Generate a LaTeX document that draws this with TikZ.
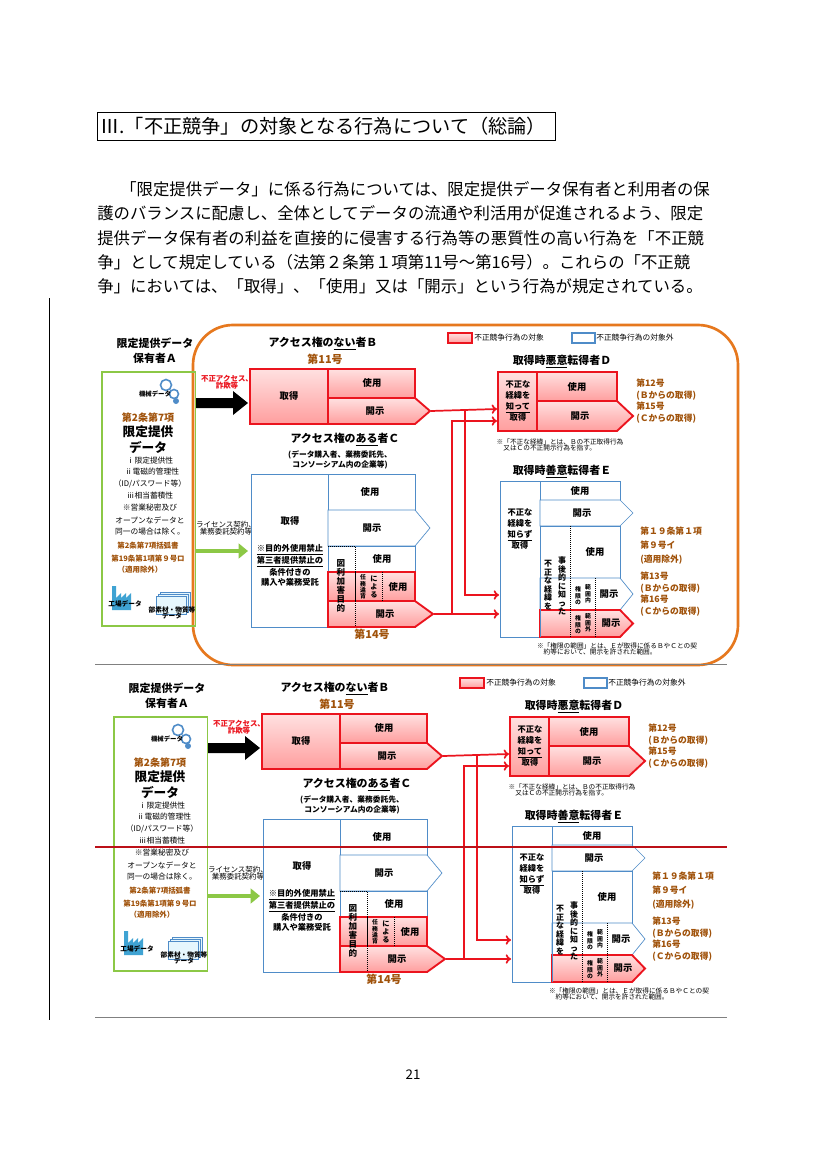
\documentclass[tikz,border=0pt]{standalone}
\usepackage{fontspec}
\setmainfont{Noto Sans CJK JP}
\usetikzlibrary{arrows.meta}
\definecolor{brn}{RGB}{160,82,10}
\definecolor{bl}{RGB}{79,140,200}
\definecolor{org}{RGB}{230,120,30}
\definecolor{grn}{RGB}{140,200,70}
\definecolor{rd}{RGB}{235,20,30}
\newcommand\fs[1]{\fontsize{#1}{#1}\selectfont}
\newcommand\fsb[2]{\fontsize{#1}{#2}\selectfont}
\tikzset{
 rbox/.style={draw=rd,line width=1.4pt,top color=red!12,bottom color=red!38},
 bbox/.style={draw=bl,line width=0.5pt,fill=white},
 lab/.style={font=\fs{7}\bfseries,inner sep=0pt},
 ttl/.style={font=\fs{8.2}\bfseries,inner sep=0pt},
 sm/.style={font=\fs{5.6},inner sep=0pt,align=center},
 bro/.style={font=\fs{6.6}\bfseries,text=brn,inner sep=0pt,align=left},
 vt/.style={font=\fsb{6.2}{6.6}\bfseries,inner sep=0pt,align=center},
 vts/.style={font=\fsb{4.4}{4.8}\bfseries,inner sep=0pt,align=center},
 rarr/.style={draw=rd,line width=1.3pt,-{To[length=4pt,width=7pt]}},
 dot/.style={densely dotted,line width=0.5pt},
}
\newcommand\pent[6]{\path[#1] (#2,#4) -- (#3,#4) -- (#6,{(#4+#5)/2}) -- (#3,#5) -- (#2,#5) -- cycle;}
\newcommand\drawdiag{%
 % A
 \node[ttl] (atl1) at (155,343) {限定提供データ};
 \node[ttl] (atl2) at (155,358) {保有者Ａ};
 \node[draw=grn,line width=1pt,minimum width=70pt,minimum height=190.5pt,inner sep=0pt] (abox) at (148.5,499) {};
 \draw[bl,line width=1.2pt] (166,385) circle (5.5) (174,394) circle (4.5);
 \fill[bl] (176,401) circle (3);
 \node[font=\fs{4.8}\bfseries,inner sep=0pt] (gear) at (155,394) {機械データ};
 \node[bro,font=\fs{7.5}\bfseries] (a1) at (148,418) {第2条第7項};
 \node[ttl,font=\fs{9.5}\bfseries] (a2) at (148,432) {限定提供};
 \node[ttl,font=\fs{9.5}\bfseries] (a3) at (148,447) {データ};
 \node[sm,font=\fs{5.8}] (a4) at (150,461) {ⅰ限定提供性};
 \node[sm,font=\fs{5.8}] (a5) at (152,472) {ⅱ電磁的管理性};
 \node[sm,font=\fs{5.8}] (a6) at (150,484) {（ID/パスワード等）};
 \node[sm,font=\fs{5.8}] (a7) at (150,496) {ⅲ相当蓄積性};
 \node[sm,font=\fs{5.8}] (a8) at (150,508) {※営業秘密及び};
 \node[sm,font=\fs{5.8}] (a9) at (150,520) {オープンなデータと};
 \node[sm,font=\fs{5.8}] (a10) at (150,532) {同一の場合は除く。};
 \node[bro,font=\fs{5.6}\bfseries] (a11) at (148,546) {第2条第7項括弧書};
 \node[bro,font=\fs{5.6}\bfseries] (a12) at (148,559) {第19条第1項第９号ロ};
 \node[bro,font=\fs{5.6}\bfseries] (a13) at (140,570) {（適用除外）};
 \fill[bl!80!cyan] (112,586) rectangle (116,610) (116,598) -- (121,593) -- (121,598) -- (126,593) -- (126,598) -- (131,593) -- (131,610) -- (116,610) -- cycle;
 \node[font=\fs{5}\bfseries,inner sep=0pt] (fac) at (125,604) {工場データ};
 \foreach \d in {4,2,0}{\draw[bl,fill=cyan!10] (156+\d,596-\d) rectangle (186+\d,614-\d);}
 \node[sm,font=\fs{5}\bfseries] (mat) at (172,613) {部素材・物質等\\データ};
 % arrows from A
 \path[fill=black] (196,398) -- (233,398) -- (233,391) -- (248,403) -- (233,415) -- (233,408) -- (196,408) -- cycle;
 \node[sm,font=\fs{5.6}\bfseries,text=rd] (ua) at (227,382) {不正アクセス、\\詐欺等};
 \draw[grn,line width=3.2pt,-{Triangle[length=7pt,width=11pt]}] (196,551) -- (248,551);
 \node[sm,font=\fs{5.6}] (lic) at (226,528) {ライセンス契約、\\業務委託契約等};
 % B
 \node[ttl] (btl) at (323,344) {アクセス権の\underline{ない}者Ｂ};
 \node[ttl,text=brn] (b11) at (325,359) {第11号};
 \path[rbox] (250,369) rectangle (328,424);
 \path[rbox] (328,369) rectangle (415,398);
 \pent{rbox}{328}{415}{398}{424}{430}
 \node[lab] (b1) at (289,396) {取得};
 \node[lab] (b2) at (372,383) {使用};
 \node[lab] (b3) at (375,411) {開示};
 \coordinate (btip) at (431,411);
 % C
 \node[ttl] (ctl) at (345,440) {アクセス権の\underline{ある}者Ｃ};
 \node[sm,font=\fs{5.8}\bfseries] (ct2) at (340,460) {(データ購入者、業務委託先、\\コンソーシアム内の企業等)};
 \path[bbox] (251,474) rectangle (328,627);
 \path[bbox] (328,474) rectangle (415,510);
 \pent{bbox}{328}{415}{510}{546}{430}
 \path[bbox] (328,546) rectangle (415,627);
 \path[rbox] (328,572) rectangle (415,601);
 \pent{rbox}{328}{415}{601}{627}{433}
 \draw[dot] (328,546) -- (355,546) -- (355,627) (355,572) -- (355,601) (382,572) -- (382,601);
 \node[lab] (c1) at (290,521) {取得};
 \node[sm,font=\fsb{6.2}{7.4}\bfseries] (c2) at (290,565) {\underline{※目的外使用禁止}\\\underline{第三者提供禁止の}\\条件付きの\\購入や業務受託};
 \node[lab] (c3) at (370,492) {使用};
 \node[lab] (c4) at (372,528) {開示};
 \node[lab] (c5) at (382,559) {使用};
 \node[lab] (c6) at (398,587) {使用};
 \node[lab] (c7) at (385,614) {開示};
 \node[vt,font=\fsb{6.4}{6.8}\bfseries] (c8) at (341,586) {図\\利\\加\\害\\目\\的};
 \node[vts] (c9) at (363,587) {任\\務\\違\\背};
 \node[vt,font=\fsb{5.4}{6}\bfseries] (c10) at (374,587) {に\\よ\\る};
 \node[ttl,text=brn] (c14) at (372,634) {第14号};
 \coordinate (ctip) at (434,614);
 % legend
 \path[rbox,line width=1.2pt] (448,333) rectangle (472,343);
 \node[font=\fs{5.8},inner sep=0pt,anchor=west] (lg1) at (474,338) {不正競争行為の対象};
 \path[bbox,line width=0.8pt] (572,333) rectangle (595,343);
 \node[font=\fs{5.8},inner sep=0pt,anchor=west] (lg2) at (596,338) {不正競争行為の対象外};
 % D
 \node[ttl] (dtl) at (562,362) {取得時\underline{悪意}転得者Ｄ};
 \path[rbox] (498,372) rectangle (537,431);
 \path[rbox] (537,372) rectangle (617,401);
 \pent{rbox}{537}{617}{401}{431}{633}
 \node[vt,font=\fsb{6.2}{8.4}\bfseries] (d1) at (518,401) {不正な\\経緯を\\\underline{知って}\\取得};
 \node[lab] (d2) at (577,387) {使用};
 \node[lab] (d3) at (580,416) {開示};
 \node[sm,font=\fs{5},align=left] (dn) at (560,445) {※「不正な経緯」とは、Ｂの不正取得行為\\\quad 又はＣの不正開示行為を指す。};
 \node[bro,anchor=west,font=\fsb{6.6}{8.6}\bfseries] (dr) at (636,401) {第12号\\(Ｂからの取得)\\第15号\\(Ｃからの取得)};
 \coordinate (d_in1) at (497,409);
 \coordinate (d_in2) at (497,421);
 % E
 \node[ttl] (etl) at (562,472) {取得時\underline{善意}転得者Ｅ};
 \path[bbox] (500,481) rectangle (540,637);
 \path[bbox] (540,481) rectangle (620,500);
 \pent{bbox}{540}{620}{500}{526}{633}
 \path[bbox] (540,526) rectangle (620,578);
 \pent{bbox}{540}{620}{578}{610}{633}
 \pent{rbox}{540}{620}{610}{637}{633}
 \draw[bl,line width=0.5pt] (540,526) -- (540,637);
 \draw[dot] (570,526) -- (570,637) (595,578) -- (595,637);
 \node[vt,font=\fsb{6.2}{8.4}\bfseries] (e1) at (520,529) {不正な\\経緯を\\\underline{知らず}\\取得};
 \node[lab] (e2) at (580,491) {使用};
 \node[lab] (e3) at (582,513) {開示};
 \node[lab] (e4) at (595,552) {使用};
 \node[lab] (e5) at (609,594) {開示};
 \node[lab] (e6) at (611,623) {開示};
 \node[vt,font=\fsb{6}{6.4}\bfseries] (e7) at (548,585) {不\\正\\な\\経\\緯\\を};
 \node[vt,font=\fsb{6}{6.4}\bfseries] (e8) at (562,586) {事\\後\\的\\に\\知\\っ\\た};
 \node[vts] (e9) at (578,596) {権\\限\\の};
 \node[vts] (e10) at (588,594) {範\\囲\\内};
 \node[vts] (e11) at (578,625) {権\\限\\の};
 \node[vts] (e12) at (588,623) {範\\囲\\外};
 \node[bro,anchor=west,font=\fsb{6.6}{10.5}\bfseries] (er1) at (640,546) {第１９条第１項\\第９号イ\\(適用除外)};
 \node[bro,anchor=west,font=\fsb{6.6}{8.6}\bfseries] (er2) at (640,594) {第13号\\(Ｂからの取得)\\第16号\\(Ｃからの取得)};
 \node[sm,font=\fs{5},align=left] (en) at (617,649) {※「権限の範囲」とは、Ｅが取得に係るＢやＣとの契\\\quad 約等において、開示を許された範囲。};
 \coordinate (e_in1) at (499,595);
 \coordinate (e_in2) at (499,614);
 % red connectors
 \coordinate (j1) at (465,411);
 \coordinate (j2) at (452,614);
 \draw[rarr] (btip) -- (d_in1);
 \draw[rarr] (j1) |- (e_in1);
 \draw[rarr] (ctip) -- (e_in2);
 \draw[rarr] (j2) |- (d_in2);
}
\begin{document}
\begin{tikzpicture}[x=0.75pt,y=-0.75pt]
\useasboundingbox[fill=white] (0,0) rectangle (827,1170);
% header
\node[draw,line width=0.6pt,minimum width=343.5pt,minimum height=21pt,inner sep=0pt] (hbox) at (326,126) {};
\node[font=\fs{14.4},anchor=west,inner sep=0pt] (htxt) at (100,126) {Ⅲ.「不正競争」の対象となる行為について（総論）};
\foreach \t/\xx/\yy [count=\i] in {
 {「限定提供データ」に係る行為については、限定提供データ保有者と利用者の保}/120/189,
 {護のバランスに配慮し、全体としてデータの流通や利活用が促進されるよう、限定}/97/213,
 {提供データ保有者の利益を直接的に侵害する行為等の悪質性の高い行為を「不正競}/97/238,
 {争」として規定している（法第２条第１項第11号～第16号）。これらの「不正競}/97/262,
 {争」においては、「取得」、「使用」又は「開示」という行為が規定されている。}/97/286}
 {\node[font=\fs{12.3},anchor=west,inner sep=0pt] (p\i) at (\xx,\yy) {\t};}
\draw[line width=0.6pt] (49,298) -- (49,1020);
% top diagram
\draw[org,line width=2pt,rounded corners=30pt] (193,325) rectangle (738,665);
\drawdiag
\draw[gray,line width=0.5pt] (95,664) -- (727,664);
% bottom diagram
\begin{scope}[shift={(12,345)}]
\drawdiag
\end{scope}
\draw[rd!80!black,line width=0.8pt] (95,847) -- (727,847);
\draw[gray,line width=0.5pt] (95,1017) -- (727,1017);
\node[font=\fs{10}] (pg) at (413,1075) {21};
\end{tikzpicture}
\end{document}
